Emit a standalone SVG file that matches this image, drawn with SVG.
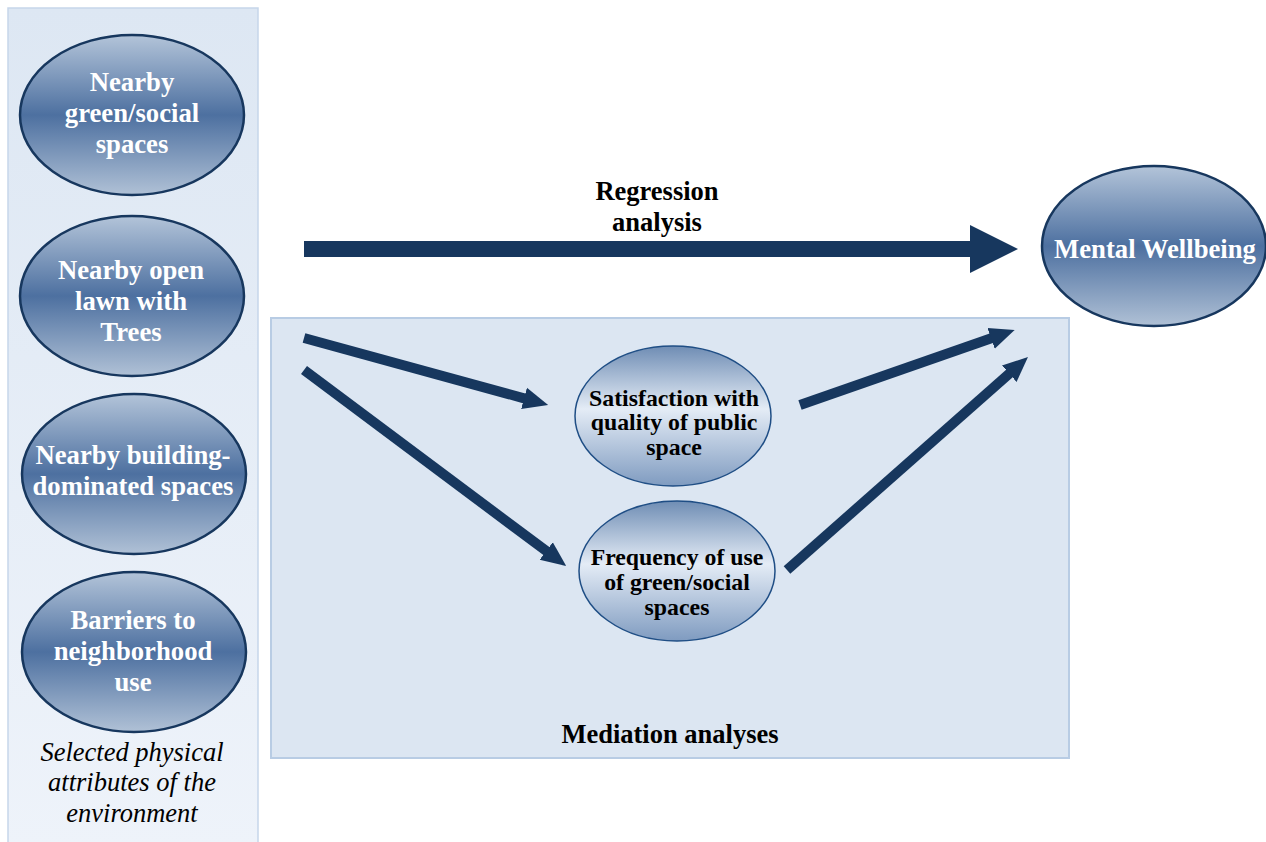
<svg xmlns="http://www.w3.org/2000/svg" width="1266" height="842" viewBox="0 0 1266 842">
  <defs>
    <linearGradient id="panelGrad" x1="0" y1="0" x2="0" y2="1">
      <stop offset="0" stop-color="#dde7f3"/>
      <stop offset="1" stop-color="#eef3fa"/>
    </linearGradient>
    <linearGradient id="darkOval" x1="0" y1="0" x2="0" y2="1">
      <stop offset="0" stop-color="#b3c4d9"/>
      <stop offset="0.5" stop-color="#4d70a0"/>
      <stop offset="1" stop-color="#b0c1d6"/>
    </linearGradient>
    <linearGradient id="lightOval" x1="0" y1="0" x2="0" y2="1">
      <stop offset="0" stop-color="#6f8db4"/>
      <stop offset="0.45" stop-color="#e4ecf6"/>
      <stop offset="1" stop-color="#7f9bc0"/>
    </linearGradient>
    <marker id="head" markerUnits="userSpaceOnUse" markerWidth="26" markerHeight="24" viewBox="0 0 26 24" refX="1" refY="12" orient="auto">
      <path d="M0,1 L25,12 L0,23 z" fill="#17375e"/>
    </marker>
    <style>
      .dark { fill: url(#darkOval); stroke: #17375e; stroke-width: 2.5; }
      .light { fill: url(#lightOval); stroke: #1f4e85; stroke-width: 1.5; }
      .wt { font-family: "Liberation Serif", serif; font-weight: bold; font-size: 26.7px; fill: #ffffff; text-anchor: middle; }
      .bt { font-family: "Liberation Serif", serif; font-weight: bold; font-size: 23.8px; fill: #000000; text-anchor: middle; }
      .lbl { font-family: "Liberation Serif", serif; font-weight: bold; font-size: 26.5px; fill: #000000; text-anchor: middle; }
      .cap { font-family: "Liberation Serif", serif; font-style: italic; font-size: 26.5px; fill: #000000; text-anchor: middle; }
      .conn { stroke: #17375e; stroke-width: 10; fill: none; marker-end: url(#head); }
    </style>
  </defs>

  <rect width="1266" height="842" fill="#ffffff"/>

  <!-- panel of physical attributes -->
  <rect id="attributes-panel" x="8" y="8" width="250" height="840" fill="url(#panelGrad)" stroke="#c6d6ea" stroke-width="1.5"/>

  <!-- mediation box -->
  <rect id="mediation-box" x="271" y="318" width="798" height="440" fill="#dce6f2" stroke="#b8cce4" stroke-width="2"/>

  <g id="attr-green">
    <ellipse class="dark" cx="132" cy="115" rx="112" ry="80"/>
    <text class="wt" x="132" y="91">Nearby</text>
    <text class="wt" x="132" y="122">green/social</text>
    <text class="wt" x="132" y="153">spaces</text>
  </g>
  <g id="attr-lawn">
    <ellipse class="dark" cx="132" cy="296" rx="112" ry="80"/>
    <text class="wt" x="131" y="279">Nearby open</text>
    <text class="wt" x="131" y="310">lawn with</text>
    <text class="wt" x="131" y="341">Trees</text>
  </g>
  <g id="attr-building">
    <ellipse class="dark" cx="134" cy="474" rx="112" ry="80"/>
    <text class="wt" x="133" y="464">Nearby building-</text>
    <text class="wt" x="133" y="495">dominated spaces</text>
  </g>
  <g id="attr-barriers">
    <ellipse class="dark" cx="134" cy="652" rx="112" ry="80"/>
    <text class="wt" x="133" y="629">Barriers to</text>
    <text class="wt" x="133" y="660">neighborhood</text>
    <text class="wt" x="133" y="691">use</text>
  </g>

  <g id="caption">
    <text class="cap" x="132" y="761">Selected physical</text>
    <text class="cap" x="132" y="791">attributes of the</text>
    <text class="cap" x="132" y="822">environment</text>
  </g>

  <g id="wellbeing">
    <ellipse class="dark" cx="1154" cy="246" rx="112" ry="80"/>
    <text class="wt" x="1155" y="258">Mental Wellbeing</text>
  </g>

  <g id="satisfaction">
    <ellipse class="light" cx="673" cy="416" rx="98" ry="70"/>
    <text class="bt" x="674" y="406">Satisfaction with</text>
    <text class="bt" x="674" y="430">quality of public</text>
    <text class="bt" x="674" y="455">space</text>
  </g>

  <g id="frequency">
    <ellipse class="light" cx="677" cy="571" rx="98" ry="70"/>
    <text class="bt" x="677" y="565">Frequency of use</text>
    <text class="bt" x="677" y="590">of green/social</text>
    <text class="bt" x="677" y="615">spaces</text>
  </g>

  <g id="labels">
    <text class="lbl" x="657" y="200">Regression</text>
    <text class="lbl" x="657" y="231">analysis</text>
    <text class="lbl" x="670" y="743">Mediation analyses</text>
  </g>

  <g id="connectors">
    <!-- regression arrow -->
    <polygon points="304,241 970,241 970,225 1018,249 970,273 970,257 304,257" fill="#17375e"/>
    <!-- mediation paths -->
    <line class="conn" x1="304" y1="338" x2="525" y2="398.6"/>
    <line class="conn" x1="304" y1="370" x2="547" y2="551.6"/>
    <line class="conn" x1="800" y1="405" x2="992" y2="338"/>
    <line class="conn" x1="787" y1="570" x2="1010" y2="373"/>
  </g>
</svg>
